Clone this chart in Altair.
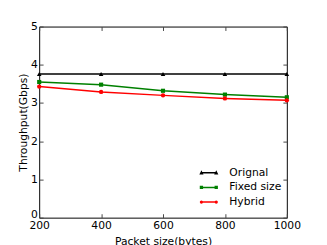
import altair as alt
import pandas as pd

packet_sizes = [200, 400, 600, 800, 1000]
original = [3.76, 3.76, 3.76, 3.76, 3.76]
fixed_size = [3.55, 3.48, 3.32, 3.22, 3.15]
hybrid = [3.43, 3.29, 3.20, 3.12, 3.07]
series_names = ["Orignal", "Fixed size", "Hybrid"]
series_colors = ["#000000", "#008000", "#ff0000"]
marker_shapes = ["triangle-up", "square", "circle"]
marker_sizes = [22, 18, 20]
x_ticks = [200, 400, 600, 800, 1000]
y_ticks = [0, 1, 2, 3, 4, 5]

rows = []
for name, vals in zip(series_names, [original, fixed_size, hybrid]):
    for xv, v in zip(packet_sizes, vals):
        rows.append({"size": xv, "tp": v, "series": name})
df = pd.DataFrame(rows)

FONT = "DejaVu Sans"
color_scale = alt.Scale(domain=series_names, range=series_colors)
x_scale = alt.Scale(domain=[200, 1000], nice=False)
y_scale = alt.Scale(domain=[0, 5], nice=False)


def legend_path(marker, r=0.18, half=1.55):
    p = f"M{-half},0H{half}"
    for cx in (-half + 0.1, half - 0.1):
        a, b = round(cx - r, 3), round(cx + r, 3)
        cx = round(cx, 3)
        if marker == "triangle-up":
            p += f" M{a},{r}L{cx},{-r}L{b},{r}Z"
        elif marker == "square":
            p += f" M{a},{-r}H{b}V{r}H{a}Z"
        else:
            p += f" M{a},0A{r},{r} 0 1,0 {b},0A{r},{r} 0 1,0 {a},0Z"
    return p


legend_paths = [legend_path(m) for m in marker_shapes]

base = alt.Chart(df)

bottom_axis = alt.Axis(orient="bottom", values=x_ticks, format="d", tickSize=4, offset=-4,
                       labelPadding=2, title="Packet size(bytes)", titlePadding=6)
left_axis = alt.Axis(orient="left", values=y_ticks, format="d", tickSize=4, offset=-4,
                     labelPadding=2, title="Throughput(Gbps)", titlePadding=2,
                     labelOffset={"condition": {"test": "datum.value == 0", "value": -3}, "value": 0})
top_axis = alt.Axis(orient="top", values=x_ticks, tickSize=4, offset=-4, labels=False, title=None)
right_axis = alt.Axis(orient="right", values=y_ticks, tickSize=4, offset=-4, labels=False, title=None)

layers = []
for i, (name, col, shp, sz) in enumerate(zip(series_names, series_colors, marker_shapes, marker_sizes)):
    sub = base.transform_filter(alt.datum.series == name)
    line = sub.mark_line(strokeWidth=1.5, color=col).encode(
        x=alt.X("size:Q", scale=x_scale, axis=bottom_axis if i == 0 else None),
        y=alt.Y("tp:Q", scale=y_scale, axis=left_axis if i == 0 else None),
    )
    pts = sub.mark_point(shape=shp, filled=True, size=sz, opacity=1, color=col).encode(
        x=alt.X("size:Q", scale=x_scale, axis=top_axis if i == 0 else None),
        y=alt.Y("tp:Q", scale=y_scale, axis=right_axis if i == 0 else None),
    )
    layers += [line, pts]

legend_def = alt.Legend(
    title=None, orient="none", legendX=168, legendY=144, symbolSize=110,
    symbolStrokeWidth=1.5, labelFontSize=11, labelFont=FONT, labelOffset=15,
    rowPadding=4, padding=0, labelColor="black",
)

legend_layer = base.transform_filter("false").mark_point(filled=False, strokeWidth=1.5, opacity=1).encode(
    x=alt.X("size:Q", scale=x_scale, axis=None),
    y=alt.Y("tp:Q", scale=y_scale, axis=None),
    color=alt.Color("series:N", scale=color_scale, legend=legend_def),
    shape=alt.Shape("series:N", scale=alt.Scale(domain=series_names, range=legend_paths), legend=legend_def),
)
layers.append(legend_layer)

chart = alt.layer(*layers).resolve_axis(
    x="independent", y="independent"
).properties(
    width=254, height=196,
    autosize=alt.AutoSizeParams(type="none"),
    padding={"left": 32, "top": 16, "right": 33, "bottom": 25},
).configure_view(
    stroke="black", strokeWidth=1
).configure_axis(
    grid=False, domain=False, labelFont=FONT, titleFont=FONT, labelFontSize=11,
    titleFontSize=11, titleFontWeight="normal", labelColor="black", titleColor="black",
    tickColor="#444", tickWidth=1, labelFlush=False, labelOverlap=False,
)

chart.save("out.html", embed_options={"renderer": "svg", "actions": False})
